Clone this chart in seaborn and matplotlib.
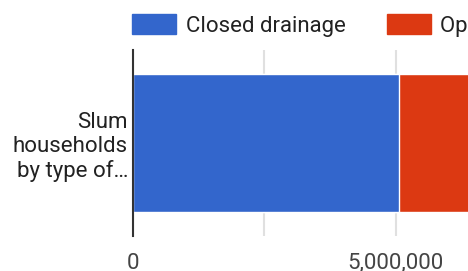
import pandas as pd
import seaborn as sb
import matplotlib.pyplot as plt
from matplotlib.patches import Patch
from matplotlib.ticker import FixedLocator

# data
categories = ['Slum\nhouseholds\nby type of\u2026']
series = ['Closed drainage', 'Open drainage']
closed_drainage = [5070000]
open_drainage = [1900000]
tick_values = [0, 2500000, 5000000, 7500000]
tick_labels = ['0', '', '5,000,000', '']

colors = ['#3366cc', '#dc3912']

df = pd.DataFrame({'cat': categories,
                   'closed': closed_drainage,
                   'total': [c + o for c, o in zip(closed_drainage, open_drainage)]})

sb.set_style('white')
plt.rcParams['font.family'] = ['Roboto', 'DejaVu Sans']

fig = plt.figure(figsize=(4.68, 2.71), dpi=100)
W, H = 468, 271
# axis runs past the right edge like the cropped original
ax = fig.add_axes([133 / W, 1 - 236 / H, (526.75 - 133) / W, (236 - 50) / H])

sb.barplot(data=df, x='total', y='cat', orient='h', color=colors[1],
           width=0.742, saturation=1, ax=ax, edgecolor='white', linewidth=1)
sb.barplot(data=df, x='closed', y='cat', orient='h', color=colors[0],
           width=0.742, saturation=1, ax=ax, edgecolor='white', linewidth=1)

ax.set_xlim(0, 7500000)
ax.xaxis.set_major_locator(FixedLocator(tick_values))
ax.set_xticklabels(tick_labels)
ax.grid(axis='x', color='#e0e0e0', linewidth=1.5)
ax.set_axisbelow(True)
ax.set_xlabel('')
ax.set_ylabel('')
for s in ['top', 'right', 'bottom']:
    ax.spines[s].set_visible(False)
ax.spines['left'].set_color('#333333')
ax.spines['left'].set_linewidth(1.5)
ax.spines['left'].set_zorder(5)
ax.tick_params(axis='x', length=0, pad=12, labelsize=16, labelcolor='#444444')
ax.tick_params(axis='y', length=0, pad=3.6, labelsize=16, labelcolor='#222222')
for t in ax.get_yticklabels():
    t.set_horizontalalignment('right')
    t.set_multialignment('right')

handles = [Patch(color=c) for c in colors]
fig.legend(handles, series, loc='upper left', bbox_to_anchor=(132 / W, 1 - 14 / H),
           ncol=2, frameon=False, fontsize=16, borderpad=0, borderaxespad=0,
           handlelength=2.0, handleheight=1.0, handletextpad=0.41,
           columnspacing=1.86, labelcolor='#222222')

fig.savefig('out.png', dpi=100)
